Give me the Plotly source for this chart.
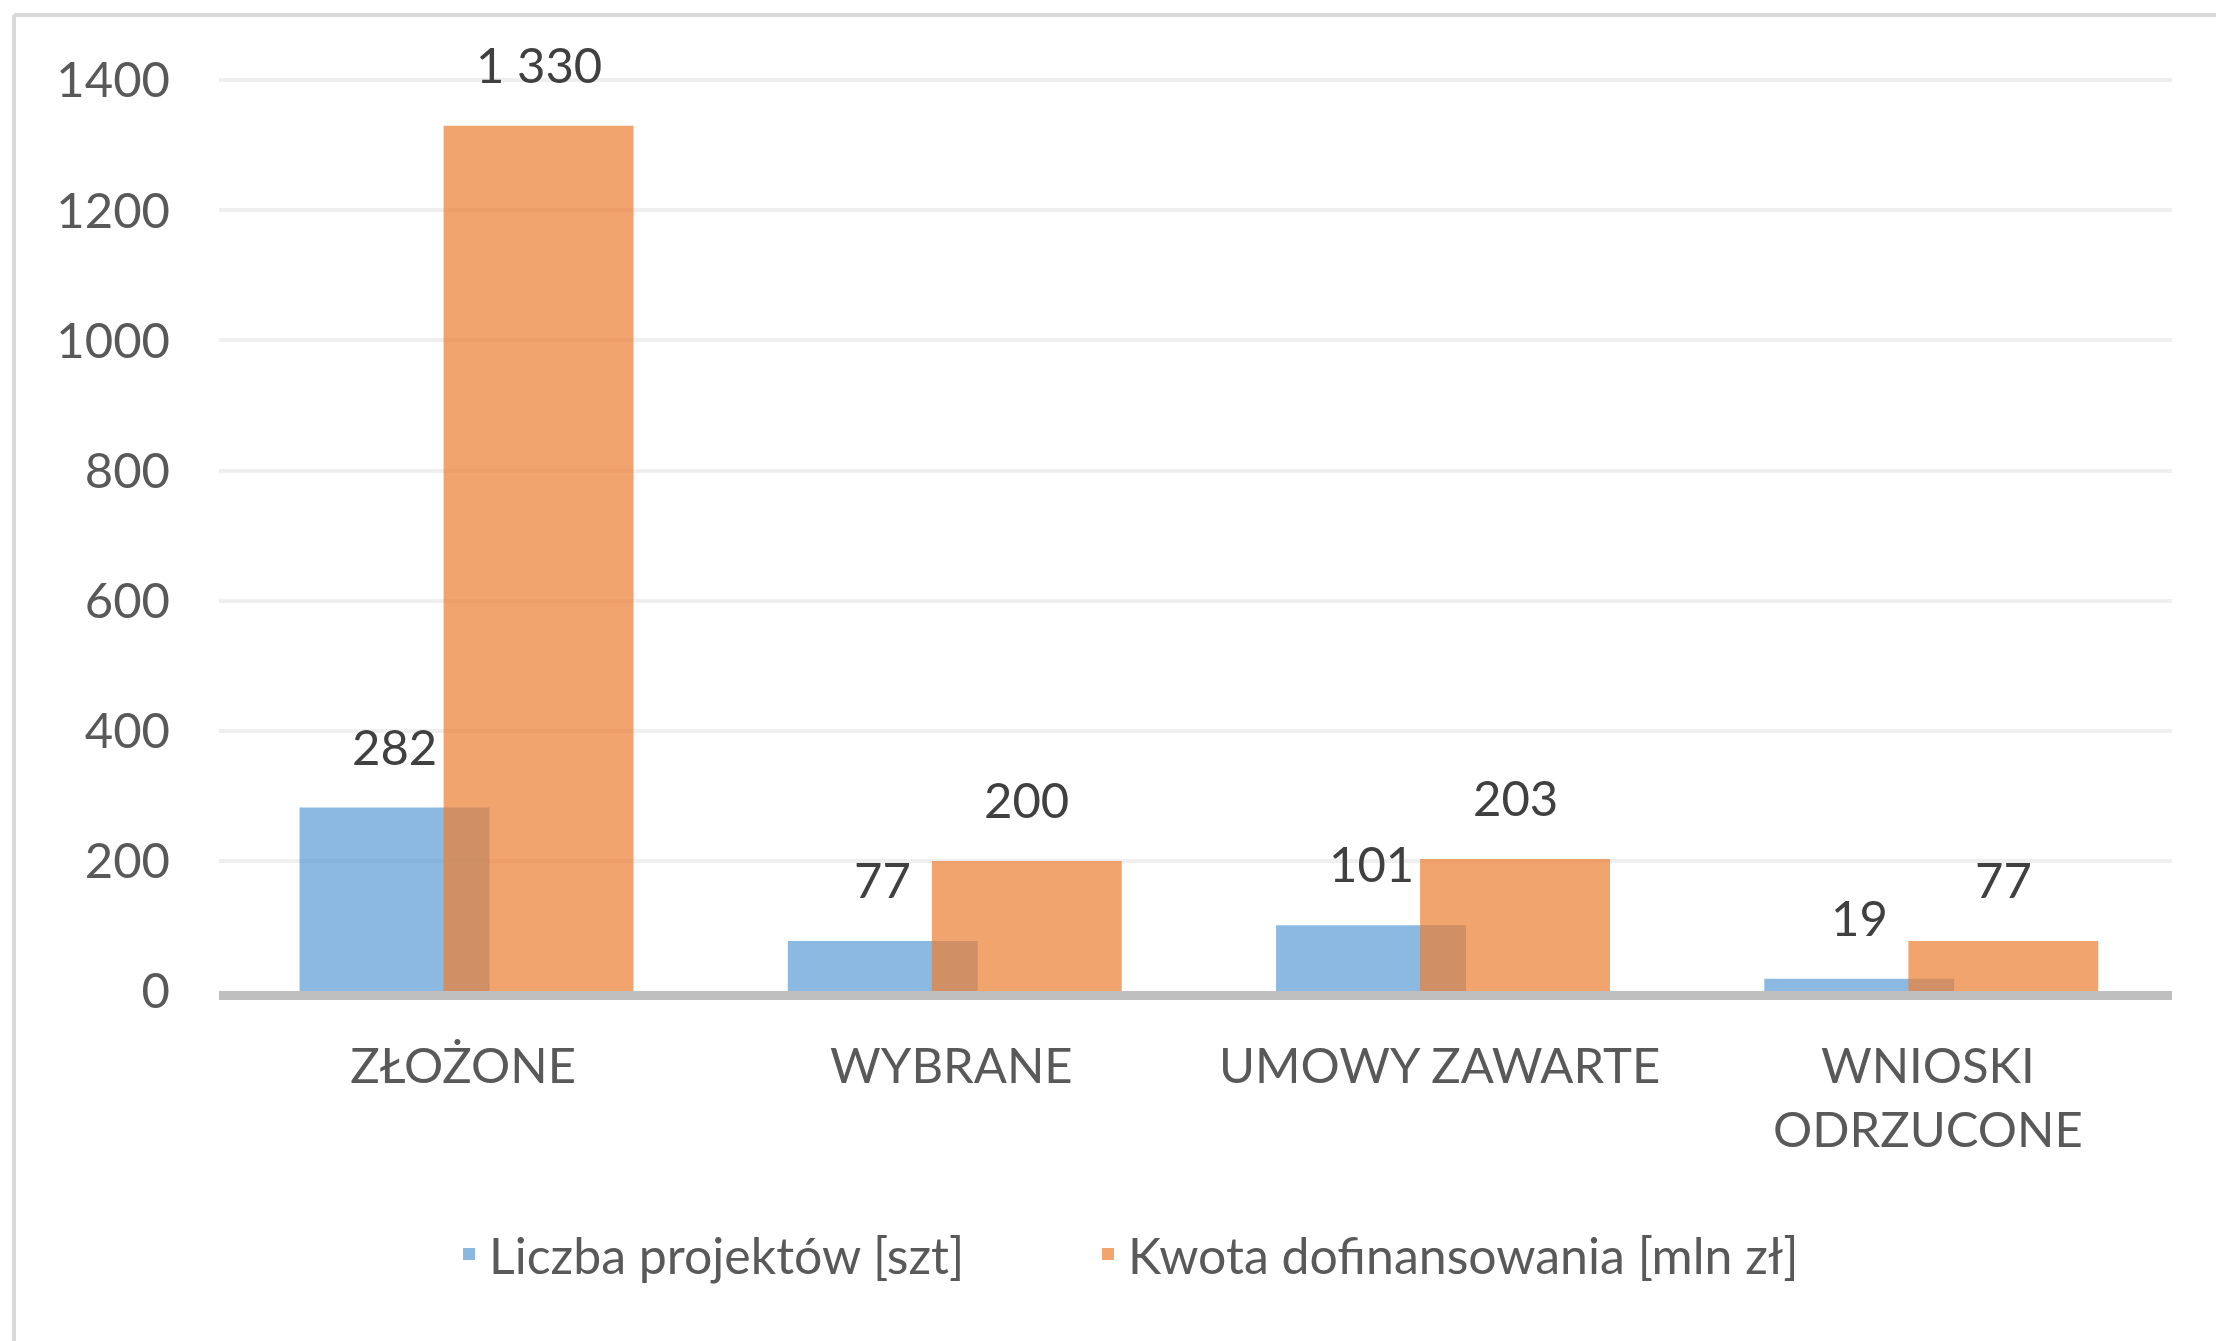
import plotly.graph_objects as go

categories = ["ZŁOŻONE", "WYBRANE", "UMOWY ZAWARTE", "WNIOSKI<br>ODRZUCONE"]
liczba_projektow = [282, 77, 101, 19]
kwota_dofinansowania = [1330, 200, 203, 77]
series_names = ["Liczba projektów [szt]", "Kwota dofinansowania [mln zł]"]
y_ticks = [0, 200, 400, 600, 800, 1000, 1200, 1400]

W, H = 2216, 1341
L, R, T, B = 219, 44, 77, 350
FONT = "Lato"
BLUE = "#5B9BD5"
ORANGE = "#ED7D31"

bar_w = 0.389
blue_off = -0.335
orange_off = -0.040

x_idx = list(range(len(categories)))

fig = go.Figure()
fig.add_trace(go.Bar(
    x=x_idx, y=liczba_projektow, name=series_names[0],
    width=bar_w, offset=blue_off, legend="legend", showlegend=True,
    marker=dict(color=BLUE, line=dict(width=0)), opacity=0.7,
))
fig.add_trace(go.Bar(
    x=x_idx, y=kwota_dofinansowania, name=series_names[1],
    width=bar_w, offset=orange_off, legend="legend2", showlegend=True,
    marker=dict(color=ORANGE, line=dict(width=0)), opacity=0.7,
))

def fmt(v):
    return f"{v:,}".replace(",", " ")

annotations = []
for i, v in enumerate(liczba_projektow):
    annotations.append(dict(x=i + blue_off + bar_w / 2, y=v, text=fmt(v), showarrow=False,
                            yshift=62, yanchor="middle", xanchor="center",
                            font=dict(family=FONT, size=49, color="#404040")))
for i, v in enumerate(kwota_dofinansowania):
    annotations.append(dict(x=i + orange_off + bar_w / 2, y=v, text=fmt(v), showarrow=False,
                            yshift=62, yanchor="middle", xanchor="center",
                            font=dict(family=FONT, size=49, color="#404040")))

pw = W - L - R
ph = H - T - B
def px_x(p):
    return (p - L) / pw
def px_y(p):
    return (H - B - p) / ph

shapes = [
    dict(type="line", xref="paper", yref="paper", x0=px_x(14), x1=px_x(W + 10),
         y0=px_y(15), y1=px_y(15), line=dict(color="#D9D9D9", width=4)),
    dict(type="line", xref="paper", yref="paper", x0=px_x(14), x1=px_x(14),
         y0=px_y(15), y1=px_y(H + 10), line=dict(color="#D9D9D9", width=4)),
]

legend_font = dict(family=FONT, size=50, color="#595959")

fig.update_layout(
    width=W, height=H,
    margin=dict(l=L, r=R, t=T, b=B, autoexpand=False),
    paper_bgcolor="white", plot_bgcolor="white",
    barmode="overlay",
    showlegend=True,
    font=dict(family=FONT, size=48, color="#595959"),
    xaxis=dict(
        tickmode="array", tickvals=x_idx, ticktext=categories,
        range=[-0.5, len(categories) - 0.5],
        showgrid=False, zeroline=False,
        showline=True, linecolor="#BFBFBF", linewidth=9,
        ticks="", ticklabelstandoff=24,
        tickfont=dict(family=FONT, size=49, color="#595959"),
    ),
    yaxis=dict(
        range=[0, 1405], tickvals=y_ticks,
        showgrid=True, gridcolor="#EFEFEF", gridwidth=4,
        zeroline=False, showline=False, ticks="",
        ticklabelstandoff=48,
        tickfont=dict(family=FONT, size=49, color="#595959"),
    ),
    legend=dict(
        orientation="h", x=px_x(449), xanchor="left", y=px_y(1254), yanchor="middle",
        font=legend_font, bgcolor="rgba(0,0,0,0)", visible=True,
    ),
    legend2=dict(
        orientation="h", x=px_x(1088), xanchor="left", y=px_y(1254), yanchor="middle",
        font=legend_font, bgcolor="rgba(0,0,0,0)", visible=True,
    ),
    annotations=annotations,
    shapes=shapes,
)

fig.write_html("out.html", config={"displayModeBar": False},
               post_script="document.body.style.margin='0';")
